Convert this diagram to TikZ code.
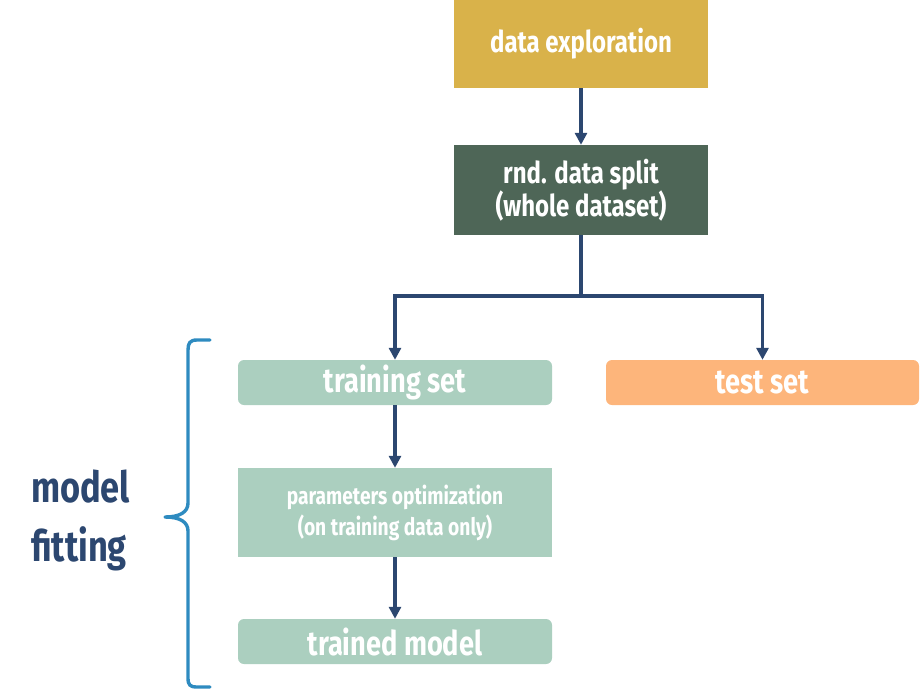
\documentclass[tikz,border=0pt]{standalone}
\usepackage{fontspec}
\setmainfont{Fira Sans}[FakeStretch=0.8]
\usetikzlibrary{arrows.meta}
\definecolor{gold}{HTML}{D9B24A}
\definecolor{dgreen}{HTML}{4E6657}
\definecolor{mint}{HTML}{ABCFBF}
\definecolor{orng}{HTML}{FDB57B}
\definecolor{navy}{HTML}{2C4770}
\definecolor{bblue}{HTML}{2E8BC0}
\tikzset{
  box/.style={draw=none, inner sep=0pt, text=white, align=center, font=\bfseries},
  arr/.style={draw=navy, line width=3.6pt, -{Triangle[length=12pt,width=12pt]}},
  lbl/.style={inner sep=0pt, text=navy, font=\fontsize{43}{58}\selectfont\bfseries, anchor=base west},
}
\begin{document}
\begin{tikzpicture}[x=1pt,y=-1pt]
\useasboundingbox (0,0) rectangle (920,691);
\node[box, fill=gold, minimum width=254pt, minimum height=88pt, font=\fontsize{30}{29}\selectfont\bfseries] (explore) at (581,44) {data exploration};
\node[box, fill=dgreen, minimum width=254pt, minimum height=90pt, font=\fontsize{30}{29}\selectfont\bfseries] (split) at (581,190) {rnd. data split\\(whole dataset)};
\node[box, fill=mint, rounded corners=6pt, minimum width=314pt, minimum height=45pt, font=\fontsize{34}{36}\selectfont\bfseries] (train) at (395,382.5) {training set};
\node[box, fill=orng, rounded corners=6pt, minimum width=313pt, minimum height=45pt, font=\fontsize{34}{36}\selectfont\bfseries] (test) at (762.5,382.5) {test set};
\node[box, fill=mint, minimum width=314pt, minimum height=89pt, font=\fontsize{24}{31}\selectfont\bfseries] (param) at (395,512.5) {parameters optimization\\(on training data only)};
\node[box, fill=mint, rounded corners=6pt, minimum width=314pt, minimum height=45pt, font=\fontsize{34}{36}\selectfont\bfseries] (trained) at (395,641.5) {trained model};
\coordinate (j) at (581,296);
\draw[arr] (explore.south) -- (split.north);
\draw[arr] (split.south) -- (j) -| (train.north);
\draw[arr] (j) -| (test.north);
\draw[arr] (train.south) -- (param.north);
\draw[arr] (param.south) -- (trained.north);
\draw[bblue, line width=3.4pt, line cap=round, line join=round]
  (210,340) -- (197,340) .. controls (190,340) and (188,343) .. (188,350)
  -- (188,503) .. controls (188,512) and (180,517) .. (165,517)
  .. controls (180,517) and (188,522) .. (188,531)
  -- (188,678) .. controls (188,685) and (190,687) .. (197,687) -- (210,687);
\node[lbl] (mf1) at (31,502) {model};
\node[lbl] (mf2) at (31,561) {fitting};
\end{tikzpicture}
\end{document}
